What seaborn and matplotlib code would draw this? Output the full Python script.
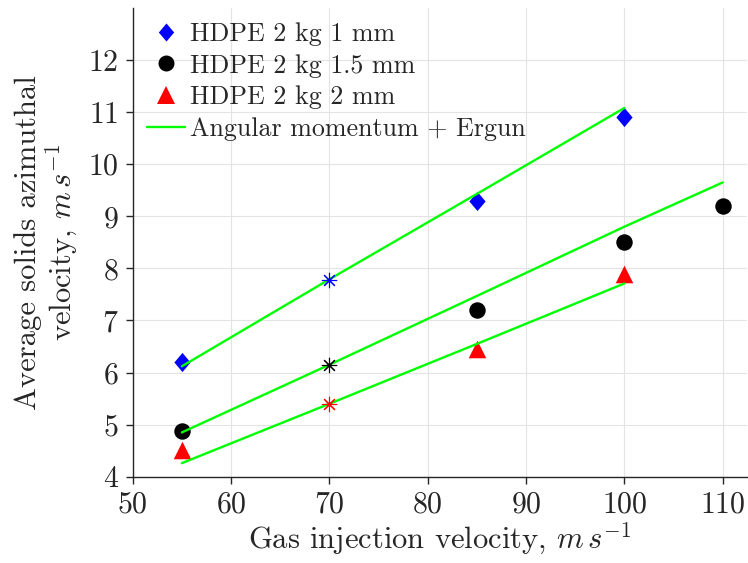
import matplotlib
matplotlib.use("Agg")
import matplotlib.pyplot as plt
import seaborn as sns
from matplotlib.lines import Line2D

# experimental points
x_1mm = [55, 85, 100]
y_1mm = [6.2, 9.3, 10.9]
x_15mm = [55, 85, 100, 110]
y_15mm = [4.87, 7.2, 8.5, 9.2]
x_2mm = [55, 85, 100]
y_2mm = [4.52, 6.45, 7.9]

# reference points at 70 m/s (asterisks)
x_ref = [70, 70, 70]
y_ref = [7.78, 6.15, 5.40]
ref_colors = ["blue", "black", "red"]

# model: angular momentum + Ergun
xm_1mm = [55, 70, 85, 100]
ym_1mm = [6.12, 7.79, 9.43, 11.08]
xm_15mm = [55, 70, 85, 100, 110]
ym_15mm = [4.85, 6.15, 7.47, 8.8, 9.65]
xm_2mm = [55, 70, 85, 100]
ym_2mm = [4.26, 5.40, 6.55, 7.71]

sns.set_theme(style="whitegrid")
plt.rcParams["font.family"] = ["cmr10", "DejaVu Serif"]
plt.rcParams["mathtext.fontset"] = "cm"
plt.rcParams["axes.unicode_minus"] = False
plt.rcParams["axes.formatter.use_mathtext"] = True

fig = plt.figure(figsize=(7.48, 5.63), dpi=100)
ax = fig.add_axes([0.1774, 0.1533, 0.8216, 0.8325])

green = "#00ff00"
diamond = [(0, 1), (0.85, 0), (0, -1), (-0.85, 0), (0, 1)]

for xs, ys in [(xm_1mm, ym_1mm), (xm_15mm, ym_15mm), (xm_2mm, ym_2mm)]:
    sns.lineplot(x=xs, y=ys, ax=ax, color=green, linewidth=1.7, zorder=3)

sns.scatterplot(x=x_1mm, y=y_1mm, ax=ax, marker=diamond, color="blue", s=190, linewidth=0, zorder=2)
sns.scatterplot(x=x_15mm, y=y_15mm, ax=ax, marker="o", color="black", s=140, linewidth=0, zorder=2)
sns.scatterplot(x=x_2mm, y=y_2mm, ax=ax, marker="^", color="red", s=160, linewidth=0, zorder=2)
for xr, yr, c in zip(x_ref, y_ref, ref_colors):
    ax.plot(xr, yr, marker=(8, 2, 0), color=c, markersize=11, markeredgewidth=0.8, zorder=4)

handles = [
    Line2D([], [], marker=diamond, color="blue", linestyle="none", markersize=13, markeredgewidth=0),
    Line2D([], [], marker="o", color="black", linestyle="none", markersize=11.5, markeredgewidth=0),
    Line2D([], [], marker="^", color="red", linestyle="none", markersize=12.5, markeredgewidth=0),
    Line2D([], [], color=green, linewidth=1.7),
]
labels = ["HDPE 2 kg 1 mm", "HDPE 2 kg 1.5 mm", "HDPE 2 kg 2 mm", "Angular momentum + Ergun"]
ax.legend(handles, labels, loc="upper left", frameon=False, fontsize=18.7,
          handlelength=1.45, handletextpad=0.2, labelspacing=0.3,
          borderaxespad=0.25, borderpad=0.3)

ax.set_xlim(50, 112.5)
ax.set_ylim(4, 13)
ax.set_xticks([50, 60, 70, 80, 90, 100, 110])
ax.set_yticks([4, 5, 6, 7, 8, 9, 10, 11, 12])
ax.tick_params(axis="both", labelsize=21.5, direction="out", length=5, width=1,
               color="#262626", labelcolor="#262626", bottom=True, left=True, pad=5)
ax.grid(True, color="#e3e3e3", linewidth=0.8)
for side in ["top", "right"]:
    ax.spines[side].set_visible(False)
for side in ["left", "bottom"]:
    ax.spines[side].set_color("#262626")
    ax.spines[side].set_linewidth(1)

ax.set_xlabel(r"Gas injection velocity, $m\,s^{-1}$", fontsize=22, color="#262626", labelpad=2)
ax.set_ylabel("Average solids azimuthal\n" + r"velocity, $m\,s^{-1}$", fontsize=22,
              color="#262626", labelpad=6, linespacing=1.05)

fig.savefig("out.png", dpi=100)
